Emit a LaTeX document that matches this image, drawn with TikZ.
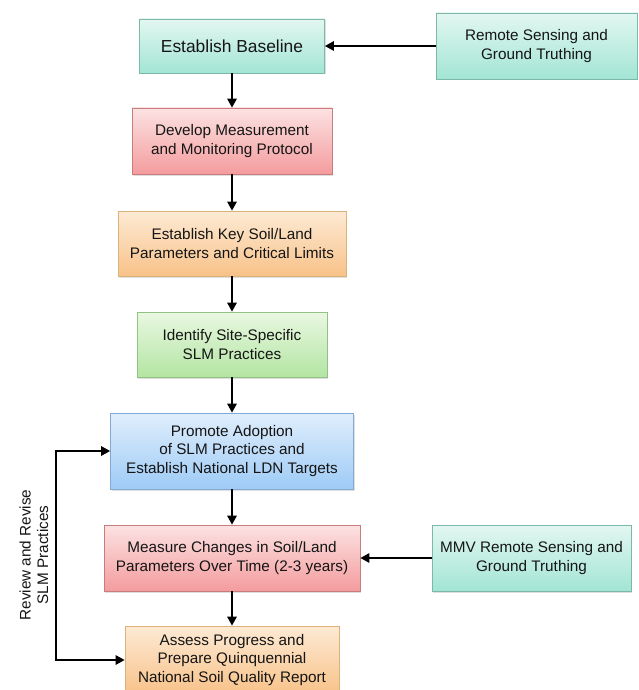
\documentclass[tikz,border=0pt]{standalone}
\usepackage{fontspec}
\setmainfont{Liberation Sans}
\usetikzlibrary{arrows.meta,shadows}
\definecolor{txt}{HTML}{151515}
\definecolor{tealT}{HTML}{E3F7F1}\definecolor{tealB}{HTML}{A2E5D4}\definecolor{tealD}{HTML}{7DB8A8}
\definecolor{redT}{HTML}{FCE2E2}\definecolor{redB}{HTML}{F49C9E}\definecolor{redD}{HTML}{C97C7E}
\definecolor{orT}{HTML}{FDEAD4}\definecolor{orB}{HTML}{F8C289}\definecolor{orD}{HTML}{D9B37A}
\definecolor{grT}{HTML}{E9F8E2}\definecolor{grB}{HTML}{B3E5A2}\definecolor{grD}{HTML}{92C184}
\definecolor{blT}{HTML}{E0EEFC}\definecolor{blB}{HTML}{9ECBF6}\definecolor{blD}{HTML}{82AAD2}
\tikzset{
  box/.style={draw, line width=0.8pt, rectangle, align=center, text=txt,
    font=\fontsize{15.3}{18.3}\selectfont, inner sep=2pt,
    drop shadow={opacity=0.25, shadow xshift=1pt, shadow yshift=-1.5pt}},
  teal/.style={box, draw=tealD, top color=tealT, bottom color=tealB},
  redbox/.style={box, draw=redD, top color=redT, bottom color=redB},
  orbox/.style={box, draw=orD, top color=orT, bottom color=orB},
  grbox/.style={box, draw=grD, top color=grT, bottom color=grB},
  blbox/.style={box, draw=blD, top color=blT, bottom color=blB},
  tip/.tip={Triangle[length=9pt,width=9.5pt]},
  arr/.style={-tip, line width=1.6pt, black},
  lbl/.style={text=txt, font=\fontsize{15.3}{17.5}\selectfont, align=center}
}
\begin{document}
\begin{tikzpicture}[x=1pt,y=-1pt]
\useasboundingbox (0,0) rectangle (639,690);
\node[teal, minimum width=185pt, minimum height=54pt, font=\fontsize{17.4}{20}\selectfont] (b1) at (232,46) {Establish Baseline};
\node[teal, minimum width=201pt, minimum height=66pt] (rs) at (536.5,46) {Remote Sensing and\\Ground Truthing};
\node[redbox, minimum width=200pt, minimum height=66pt] (b2) at (232,141) {Develop Measurement\\and Monitoring Protocol};
\node[orbox, minimum width=228pt, minimum height=65pt] (b3) at (232,243.5) {Establish Key Soil/Land\\Parameters and Critical Limits};
\node[grbox, minimum width=190pt, minimum height=65pt] (b4) at (232,344.5) {Identify Site-Specific\\SLM Practices};
\node[blbox, minimum width=243pt, minimum height=76pt] (b5) at (232,451) {Promote Adoption\\of SLM Practices and\\Establish National LDN Targets};
\node[redbox, minimum width=256pt, minimum height=66pt] (b6) at (232,558) {Measure Changes in Soil/Land\\Parameters Over Time (2-3 years)};
\node[teal, minimum width=199pt, minimum height=66pt] (mmv) at (531.5,558) {MMV Remote Sensing and\\Ground Truthing};
\node[orbox, minimum width=214pt, minimum height=68pt] (b7) at (232,660) {Assess Progress and\\Prepare Quinquennial\\National Soil Quality Report};

\draw[arr] (rs.west) -- (b1.east);
\draw[arr] (mmv.west) -- (b6.east);
\draw[arr] (b1.south) -- (b2.north);
\draw[arr] (b2.south) -- (b3.north);
\draw[arr] (b3.south) -- (b4.north);
\draw[arr] (b4.south) -- (b5.north);
\draw[arr] (b5.south) -- (b6.north);
\draw[arr] (b6.south) -- (b7.north);

\coordinate (f1) at (56,451);
\coordinate (f2) at (56,660);
\draw[arr, tip-tip, line join=miter] (b5.west) -- (f1) -- (f2) -- (b7.west);
\node[lbl, rotate=90] (rv) at (34,555) {Review and Revise\\SLM Practices};
\end{tikzpicture}
\end{document}
